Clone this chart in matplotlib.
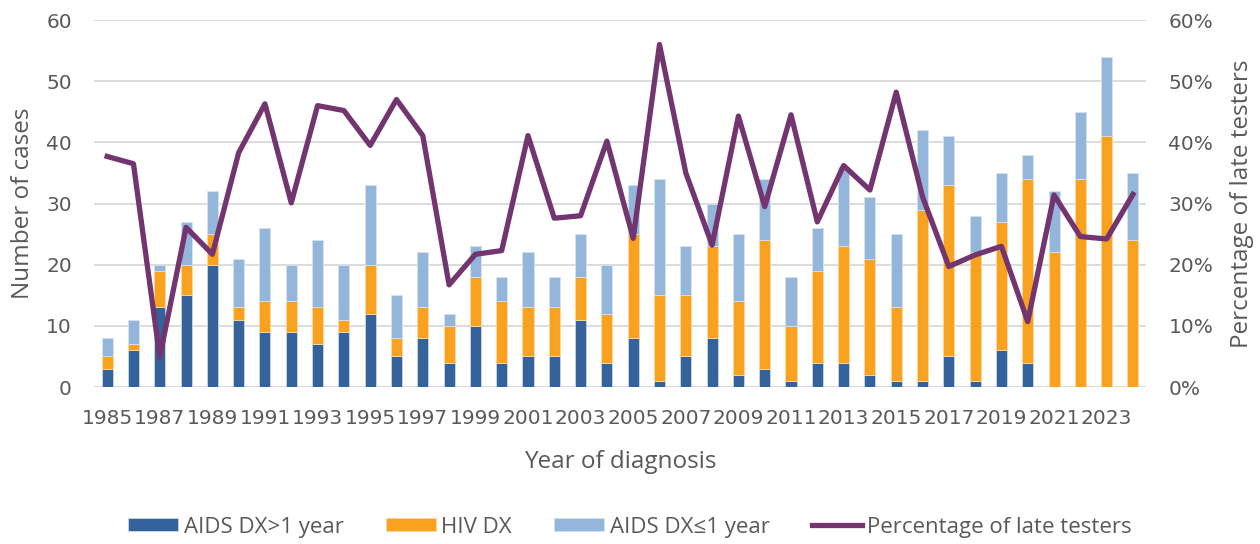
import matplotlib
matplotlib.use("Agg")
import matplotlib.pyplot as plt
from matplotlib.ticker import FuncFormatter

plt.rcParams['font.family'] = ['Open Sans', 'DejaVu Sans']

years = list(range(1985, 2025))
aids_late = [3, 6, 13, 15, 20, 11, 9, 9, 7, 9, 12, 5, 8, 4, 10, 4, 5, 5, 11, 4,
             8, 1, 5, 8, 2, 3, 1, 4, 4, 2, 1, 1, 5, 1, 6, 4, 0, 0, 0, 0]
hiv_dx = [2, 1, 6, 5, 5, 2, 5, 5, 6, 2, 8, 3, 5, 6, 8, 10, 8, 8, 7, 8,
          17, 14, 10, 15, 12, 21, 9, 15, 19, 19, 12, 28, 28, 21, 21, 30, 22, 34, 41, 24]
aids_early = [3, 4, 1, 7, 7, 8, 12, 6, 11, 9, 13, 7, 9, 2, 5, 4, 9, 5, 7, 8,
              8, 19, 8, 7, 11, 10, 8, 7, 13, 10, 12, 13, 8, 6, 8, 4, 10, 11, 13, 11]
pct_late = [37.7, 36.5, 4.9, 26.1, 21.7, 38.3, 46.3, 30.1, 46.0, 45.2,
            39.5, 47.0, 41.1, 16.7, 21.7, 22.3, 41.1, 27.6, 28.0, 40.2,
            24.3, 56.0, 35.0, 23.2, 44.3, 29.5, 44.5, 27.0, 36.2, 32.2,
            48.2, 31.1, 19.7, 21.6, 23.0, 10.7, 31.4, 24.6, 24.2, 31.5]

c_dark = '#33639A'
c_orange = '#F8A21F'
c_light = '#95B6DB'
c_line = '#73356F'
txt = '#595959'
tickfont = ['DejaVu Sans']

fig = plt.figure(figsize=(12.6, 5.44), dpi=100)
ax = fig.add_axes([0.0746, 0.2886, 0.835, 0.6746])
x = list(range(len(years)))
w = 0.42
bottom2 = [a + b for a, b in zip(aids_late, hiv_dx)]
b1 = ax.bar(x, aids_late, w, color=c_dark, edgecolor='#C9D6E6', linewidth=0.6, zorder=2)
b2 = ax.bar(x, hiv_dx, w, bottom=aids_late, color=c_orange, edgecolor='#FBD9A0', linewidth=0.6, zorder=2)
b3 = ax.bar(x, aids_early, w, bottom=bottom2, color=c_light, edgecolor='#D5E2F1', linewidth=0.6, zorder=2)

ax.set_xlim(-0.5, len(years) - 0.5)
ax.set_ylim(0, 60)
ax.set_yticks(range(0, 61, 10))
ax.grid(axis='y', color='#D9D9D9', linewidth=1.3, zorder=0)
ax.set_axisbelow(True)
for s in ax.spines.values():
    s.set_visible(False)
ax.set_xticks(x[::2])
ax.set_xticklabels([str(y) for y in years[::2]], family=tickfont, fontsize=14.5, color=txt)
for lab in ax.get_yticklabels():
    lab.set_family(tickfont)
ax.tick_params(axis='y', length=0, labelsize=14.5, colors=txt, pad=16)
ax.tick_params(axis='x', length=0, pad=16)
ax.set_xlabel('Year of diagnosis', fontsize=17.5, color=txt, labelpad=16)
ax.set_ylabel('Number of cases', fontsize=17.5, color=txt, labelpad=8)

ax2 = ax.twinx()
ln, = ax2.plot(x, pct_late, color=c_line, linewidth=3.8, solid_joinstyle='round', zorder=3)
ax2.set_ylim(0, 60)
ax2.set_yticks(range(0, 61, 10))
ax2.yaxis.set_major_formatter(FuncFormatter(lambda v, p: f'{int(v)}%'))
ax2.tick_params(axis='y', length=0, labelsize=14.5, colors=txt, pad=16)
for lab in ax2.get_yticklabels():
    lab.set_family(tickfont)
for s in ax2.spines.values():
    s.set_visible(False)
ax2.set_ylabel('Percentage of late testers', fontsize=17.5, color=txt, labelpad=12)

fig.legend([b1, b2, b3, ln],
           ['AIDS DX>1 year', 'HIV DX', 'AIDS DX\u22641 year', 'Percentage of late testers'],
           loc='center', bbox_to_anchor=(0.5, 0.031), ncol=4, frameon=False,
           fontsize=16, labelcolor=txt, handlelength=2.25, handleheight=0.55,
           columnspacing=1.9, handletextpad=0.25)

fig.savefig('out.png', dpi=100)
